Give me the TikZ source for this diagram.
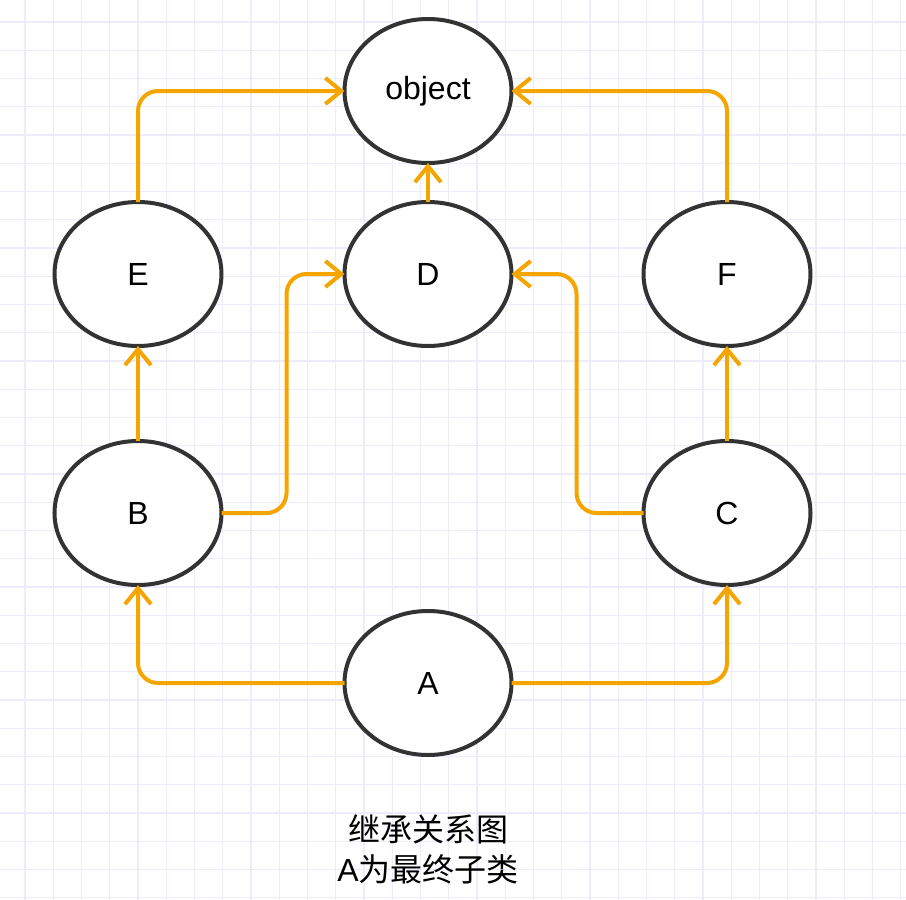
\documentclass[tikz,border=0pt]{standalone}
\usepackage{fontspec}
\setmainfont{Liberation Sans}
\newfontfamily\cjk{Noto Sans CJK SC}
\usetikzlibrary{shapes.geometric}
\usetikzlibrary{arrows.meta}
\definecolor{linkorange}{HTML}{F5A500}
\definecolor{ringgray}{HTML}{333333}
\definecolor{gridblue}{RGB}{236,236,252}
\tikzset{
    cls/.style={ellipse,draw=ringgray,line width=2pt,fill=white,minimum width=83.5pt,minimum height=72pt,inner sep=0pt,outer sep=0pt,font=\fontsize{16}{19}\selectfont},
    inherit/.style={draw=linkorange,line width=2pt,rounded corners=10pt,-{Straight Barb[length=8pt,width=13pt,line width=2pt]}},
    gridline/.style={gridblue,line width=0.7pt},
}

\begin{document}
\begin{tikzpicture}[x=0.5pt,y=-0.5pt]
\useasboundingbox[fill=white] (0,0) rectangle (906,900);
% background grid
\foreach \k in {0,...,31} {
    \draw[gridline] (25+28.25*\k,0) -- (25+28.25*\k,900);
    \draw[gridline] (0,22+28.25*\k) -- (906,22+28.25*\k);
}
\node[cls] (object) at (428,91) {object};
\node[cls] (E) at (138,274) {E};
\node[cls] (D) at (428,274) {D};
\node[cls] (F) at (727,274) {F};
\node[cls] (B) at (138,513) {B};
\node[cls] (C) at (727,513) {C};
\node[cls] (A) at (428,683) {A};
\node[align=center,font=\fontsize{16}{20}\selectfont] (caption) at (428,849) {\cjk 继承关系图\\A{\cjk 为最终子类}};
% links
\draw[inherit] (E.north) |- (object.west);
\draw[inherit] (F.north) |- (object.east);
\draw[inherit] (D.north) -- (object.south);
\draw[inherit] (B.east) -- ++(65,0) |- (D.west);
\draw[inherit] (C.west) -- ++(-67,0) |- (D.east);
\draw[inherit] (B.north) -- (E.south);
\draw[inherit] (C.north) -- (F.south);
\draw[inherit] (A.west) -| (B.south);
\draw[inherit] (A.east) -| (C.south);
\end{tikzpicture}
\end{document}
